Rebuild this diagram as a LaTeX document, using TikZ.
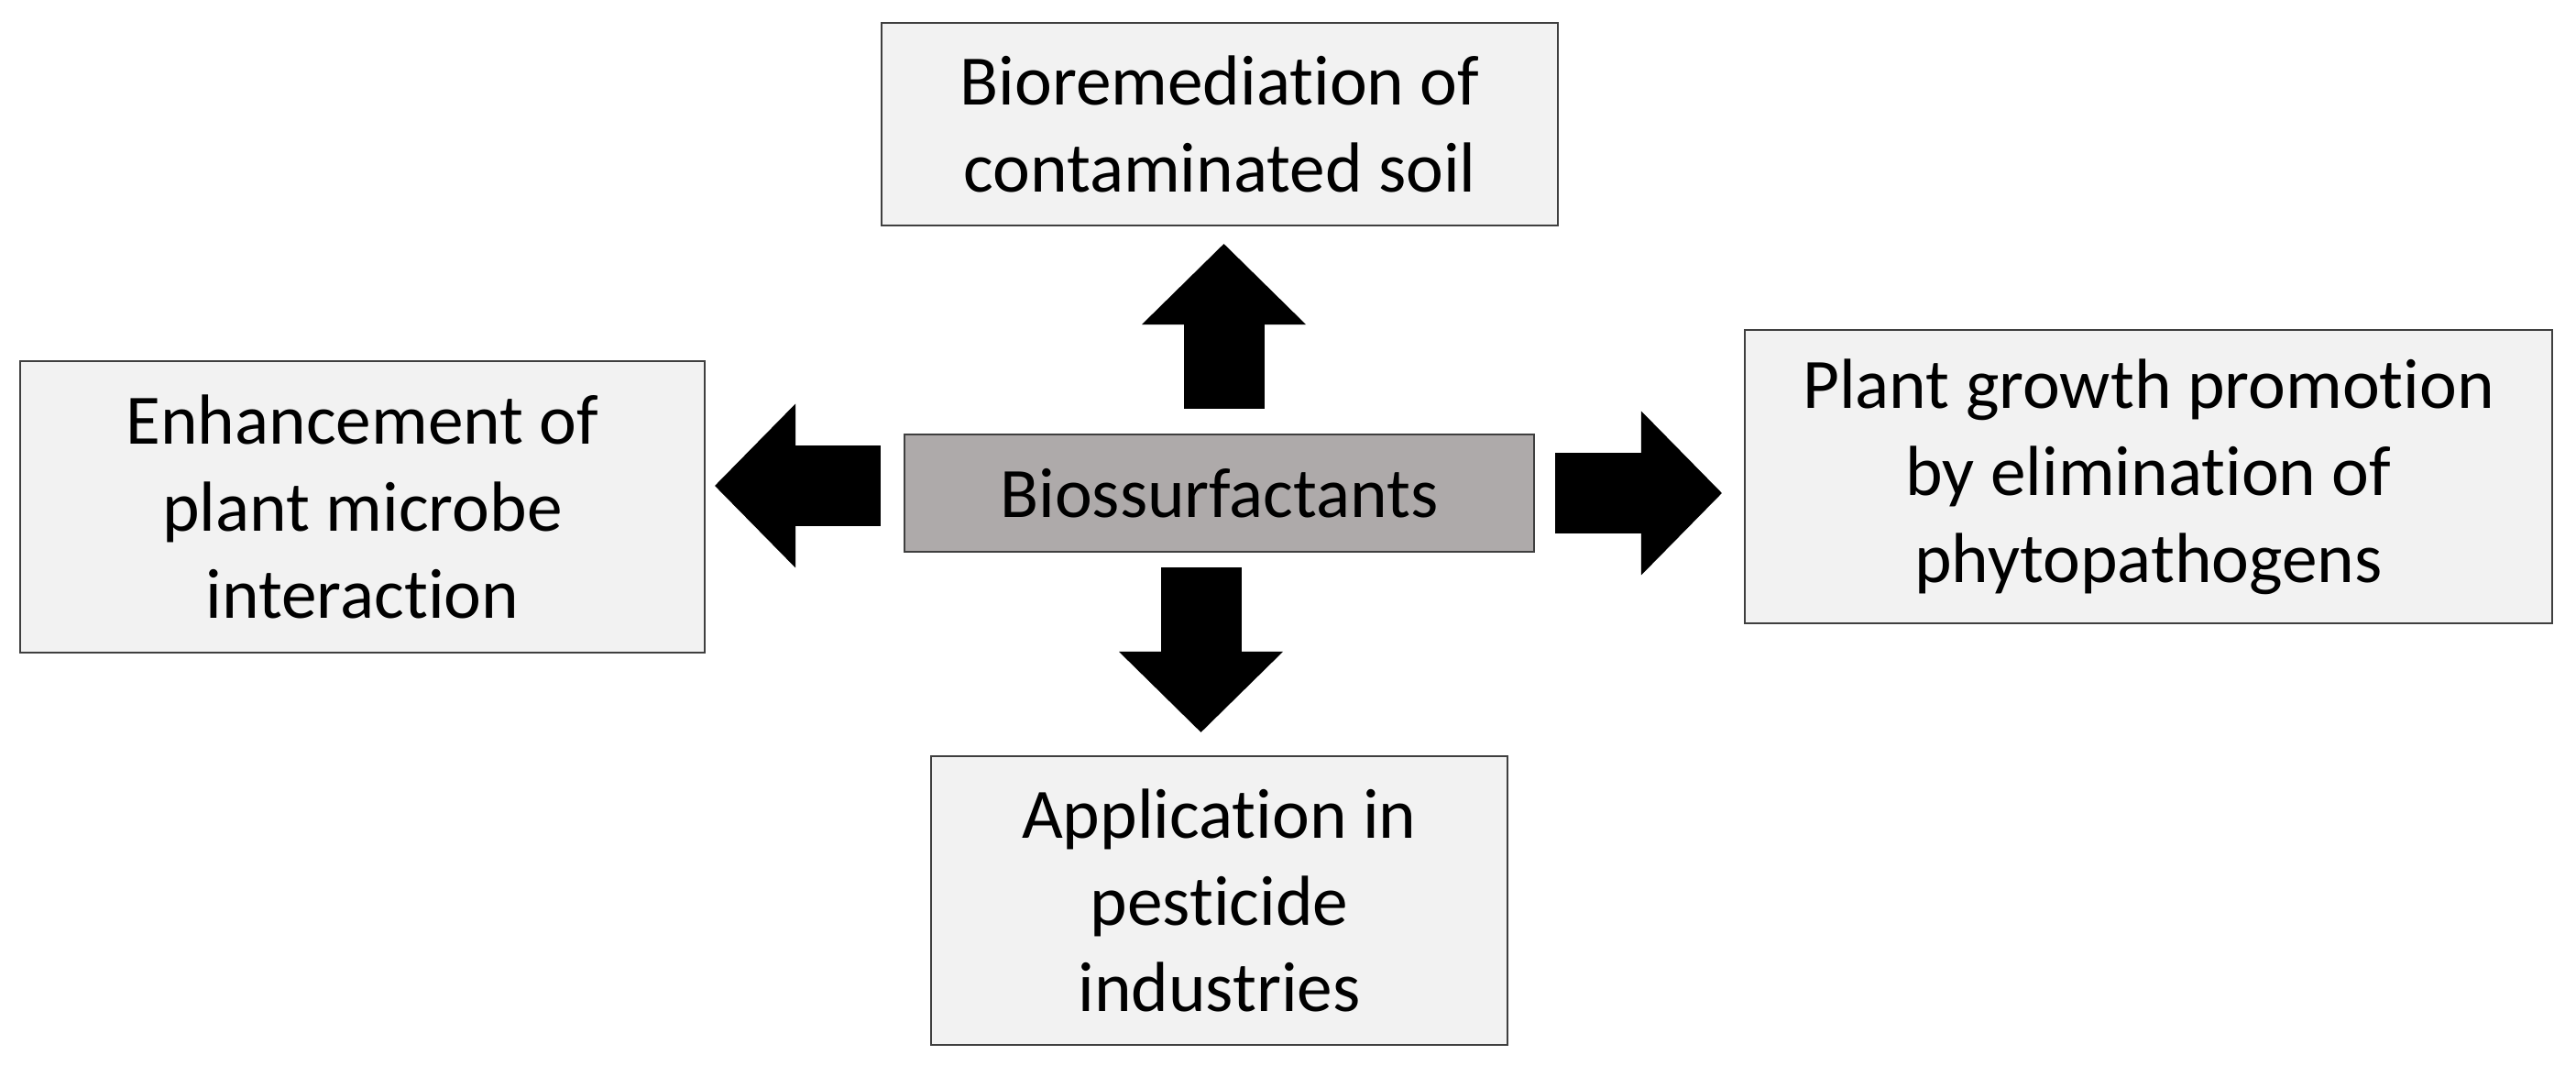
\documentclass[tikz,border=0pt]{standalone}
\usepackage{fontspec}
\setmainfont{Carlito}[Ligatures={NoCommon,NoContextual,NoRequired},Contextuals=NoAlternate]
\usetikzlibrary{arrows.meta}
\definecolor{boxfill}{HTML}{F2F2F2}
\definecolor{hubfill}{HTML}{AEAAAA}
\definecolor{boxline}{HTML}{3F3F3F}
\begin{document}
\begin{tikzpicture}[
                every node/.style={draw=boxline,line width=0.6pt,inner sep=0pt,align=center,
                    font=\fontsize{22}{27}\selectfont},
                box/.style={fill=boxfill},
                hub/.style={fill=hubfill},
                blockarrow/.style={line width=0.88cm,
                    -{Triangle[width=1.79cm,length=0.88cm,line width=0pt]}}
            ]
            \useasboundingbox (0,0) rectangle (28.11,11.75);

            \node[hub,minimum width=6.87cm,minimum height=1.28cm] (surf) at (13.305,6.37) {Biossurfactants};
            \node[box,minimum width=7.38cm,minimum height=2.21cm] (bio) at (13.31,10.395)
                {Bioremediation of\\contaminated soil};
            \node[box,minimum width=7.47cm,minimum height=3.18cm] (enh) at (3.955,6.22)
                {Enhancement of\\plant microbe\\interaction};
            \node[box,minimum width=8.81cm,minimum height=3.20cm] (plant) at (23.445,6.55)
                {Plant growth promotion\\by elimination of\\phytopathogens};
            \node[box,minimum width=6.29cm,minimum height=3.15cm] (pest) at (13.305,1.925)
                {Application in\\pesticide\\industries};

            \draw[blockarrow,shorten <=0.27cm,shorten >=0.19cm]
                ([xshift=0.05cm]surf.north) -- ([xshift=0.05cm]surf.north |- bio.south);
            \draw[blockarrow,shorten <=0.16cm,shorten >=0.25cm]
                ([xshift=-0.2cm]surf.south) -- ([xshift=-0.2cm]surf.south |- pest.north);
            \draw[blockarrow,shorten <=0.25cm,shorten >=0.10cm]
                ([yshift=0.08cm]surf.west) -- ([yshift=0.08cm]surf.west -| enh.east);
            \draw[blockarrow,shorten <=0.22cm,shorten >=0.24cm]
                (surf.east) -- (surf.east -| plant.west);

        \end{tikzpicture}
\end{document}
